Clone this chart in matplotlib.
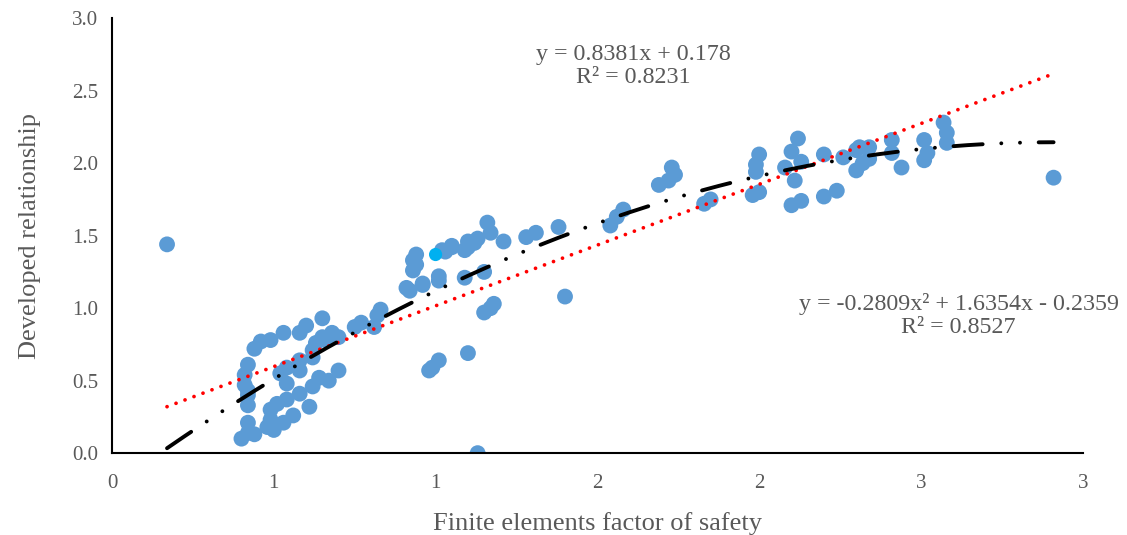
import numpy as np
import matplotlib
matplotlib.use("Agg")
import matplotlib.pyplot as plt

# ---- data ----
fe_fos = [0.17, 0.40, 0.42, 0.44, 0.42, 0.42, 0.42, 0.42, 0.41, 0.41, 0.42, 0.44, 0.46, 0.49,
          0.53, 0.58, 0.60, 0.65, 0.49, 0.49, 0.48, 0.50, 0.53, 0.51, 0.54, 0.56, 0.58, 0.61,
          0.62, 0.64, 0.67, 0.70, 0.54, 0.52, 0.54, 0.58, 0.58, 0.62, 0.62, 0.63, 0.65, 0.66,
          0.68, 0.70, 0.75, 0.77, 0.81, 0.82, 0.83,
          0.93, 0.94, 0.93, 0.94, 0.92, 0.91, 0.96, 0.96, 1.01, 1.01, 1.03, 1.02, 1.05, 1.05,
          1.09, 1.10, 1.10, 1.12, 1.13, 1.16, 1.17, 1.21, 1.09, 1.15, 1.18, 1.15, 1.17, 1.10,
          1.01, 0.99, 0.98, 1.13, 1.28, 1.31, 1.38, 1.40,
          1.54, 1.56, 1.58, 1.69, 1.72, 1.73, 1.74, 1.83, 1.85, 1.98, 2.00, 1.99, 2.00, 1.99,
          2.08, 2.10, 2.12, 2.11, 2.10, 2.13, 2.13, 2.20, 2.20, 2.24, 2.26, 2.30, 2.34, 2.31,
          2.30, 2.32, 2.34, 2.41, 2.41, 2.44, 2.51, 2.51, 2.52, 2.57, 2.58, 2.58, 2.91]
developed = [1.44, 0.10, 0.14, 0.13, 0.21, 0.33, 0.40, 0.43, 0.47, 0.54, 0.61, 0.72, 0.77, 0.78,
             0.83, 0.83, 0.88, 0.93, 0.30, 0.23, 0.18, 0.16, 0.21, 0.34, 0.37, 0.26, 0.41, 0.32,
             0.46, 0.52, 0.50, 0.57, 0.48, 0.55, 0.59, 0.64, 0.57, 0.71, 0.66, 0.76, 0.80, 0.78,
             0.83, 0.80, 0.87, 0.90, 0.87, 0.95, 0.99,
             1.33, 1.37, 1.26, 1.30, 1.12, 1.14, 1.16, 1.17, 1.19, 1.22, 1.39, 1.40, 1.42, 1.43,
             1.40, 1.42, 1.46, 1.45, 1.48, 1.59, 1.52, 1.46, 1.21, 1.25, 1.03, 0.97, 1.00, 0.69,
             0.64, 0.59, 0.57, 0.00, 1.49, 1.52, 1.56, 1.08,
             1.57, 1.63, 1.68, 1.85, 1.88, 1.97, 1.92, 1.72, 1.75, 1.78, 1.80, 1.94, 2.06, 1.99,
             1.97, 2.08, 2.17, 1.88, 1.71, 1.74, 2.01, 2.06, 1.77, 1.81, 2.04, 2.09, 2.11, 2.11,
             1.95, 2.00, 2.03, 2.16, 2.07, 1.97, 2.16, 2.02, 2.07, 2.28, 2.21, 2.14, 1.90]
highlight_x = [1.00]
highlight_y = [1.37]

lin_coef = [0.8381, 0.178]                 # y = a x + b
poly_coef = [-0.2809, 1.6354, -0.2359]     # y = a x^2 + b x + c
lin_label = "y = 0.8381x + 0.178\nR² = 0.8231"
poly_label = "y = -0.2809x² + 1.6354x - 0.2359\nR² = 0.8527"

x_ticks = [0, 0.5, 1.0, 1.5, 2.0, 2.5, 3.0]
x_ticklabels = ["0", "1", "1", "2", "2", "3", "3"]
y_ticks = [0.0, 0.5, 1.0, 1.5, 2.0, 2.5, 3.0]

# ---- figure ----
plt.rcParams['font.family'] = ['Liberation Serif', 'DejaVu Serif']
grey = "#595959"

fig = plt.figure(figsize=(11.27, 5.35), dpi=100)
ax = fig.add_axes([0.0994, 0.153, 0.8613, 0.813])

ax.scatter(fe_fos, developed, s=130, color="#5B9BD5", edgecolors="none", zorder=2)
ax.scatter(highlight_x, highlight_y, s=90, color="#00B0F0", edgecolors="none", zorder=3)

xs = np.linspace(min(fe_fos), max(fe_fos), 300)
ax.plot(xs, np.polyval(lin_coef, xs), color="#FF0000", lw=2.7,
        linestyle=(0, (0.01, 2.55)), dash_capstyle="round", zorder=4)
ax.plot(xs, np.polyval(poly_coef, xs), color="black", lw=2.8,
        linestyle=(0, (7.5, 4.8, 0.01, 4.8, 0.01, 4.8)), dash_capstyle="round", zorder=4)

ax.set_xlim(0, 3.0)
ax.set_ylim(0, 3.0)
ax.set_xticks(x_ticks)
ax.set_xticklabels(x_ticklabels)
ax.set_yticks(y_ticks)
ax.set_yticklabels([f"{v:.1f}" for v in y_ticks])
ax.tick_params(axis="x", length=0, labelsize=15, colors=grey, pad=15)
ax.tick_params(axis="y", length=0, labelsize=15, colors=grey, pad=10)
for s in ["top", "right"]:
    ax.spines[s].set_visible(False)
for s in ["left", "bottom"]:
    ax.spines[s].set_linewidth(1.5)
    ax.spines[s].set_color("black")

ax.set_xlabel("Finite elements factor of safety", fontsize=19, color=grey, labelpad=14)
ax.set_ylabel("Developed relationship", fontsize=19, color=grey, labelpad=22)

ax.text(1.61, 2.67, lin_label, ha="center", va="center", fontsize=17.3, color=grey,
        linespacing=1.15)
ax.text(2.617, 0.95, poly_label, ha="center", va="center", fontsize=17.3, color=grey,
        linespacing=1.15)

fig.savefig("out.png", dpi=100)
